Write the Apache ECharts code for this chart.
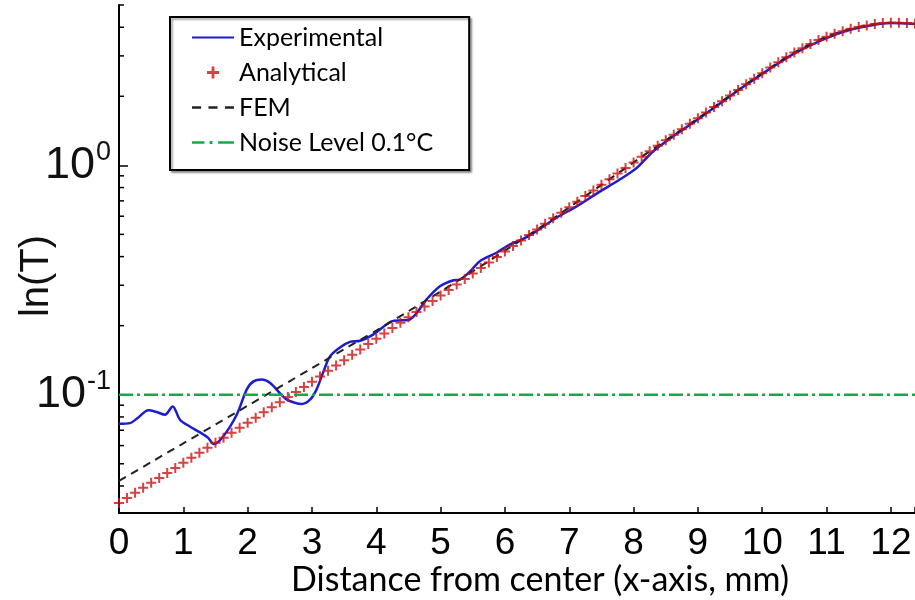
<!DOCTYPE html>
<html>
<head>
<meta charset="utf-8">
<script src="https://cdn.jsdelivr.net/npm/echarts@6/dist/echarts.min.js"></script>
<style>html,body{margin:0;padding:0;background:#fff}#chart{width:915px;height:600px}</style>
</head>
<body>
<div id="chart"></div>
<script>
// ---- data ----
const analyticalX = [0,0.125,0.25,0.375,0.5,0.625,0.75,0.875,
  1,1.125,1.25,1.375,1.5,1.625,1.75,1.875,
  2,2.125,2.25,2.375,2.5,2.625,2.75,2.875,
  3,3.125,3.25,3.375,3.5,3.625,3.75,3.875,
  4,4.125,4.25,4.375,4.5,4.625,4.75,4.875,
  5,5.125,5.25,5.375,5.5,5.625,5.75,5.875,
  6,6.125,6.25,6.375,6.5,6.625,6.75,6.875,
  7,7.125,7.25,7.375,7.5,7.625,7.75,7.875,
  8,8.125,8.25,8.375,8.5,8.625,8.75,8.875,
  9,9.125,9.25,9.375,9.5,9.625,9.75,9.875,
  10,10.125,10.25,10.375,10.5,10.625,10.75,10.875,
  11,11.125,11.25,11.375,11.5,11.625,11.75,11.875,
  12,12.125,12.25,12.375];
const analyticalY = [0.03373,0.03548,0.03733,0.03926,0.04130,0.04335,0.04560,0.04797,
  0.05047,0.05309,0.05585,0.05875,0.06180,0.06486,0.06823,0.07178,
  0.07551,0.07943,0.08375,0.08810,0.09268,0.09772,0.1028,0.1081,
  0.1140,0.1202,0.1271,0.1340,0.1413,0.1493,0.1574,0.1663,
  0.1754,0.1849,0.1954,0.2061,0.2178,0.2296,0.2427,0.2559,
  0.2704,0.2858,0.3020,0.3192,0.3373,0.3565,0.3767,0.3981,
  0.4207,0.4446,0.4699,0.4966,0.5248,0.5559,0.5875,0.6209,
  0.6561,0.6934,0.7345,0.7762,0.8222,0.8690,0.9204,0.9727,
  1.030,1.089,1.151,1.216,1.285,1.358,1.435,1.517,
  1.603,1.698,1.795,1.901,2.014,2.128,2.254,2.382,
  2.523,2.667,2.812,2.958,3.105,3.243,3.381,3.516,
  3.639,3.750,3.846,3.936,4.009,4.074,4.130,4.169,
  4.188,4.188,4.169,4.140];

const femX = [0,0.5,1,1.5,2,2.5,3,3.5,4,4.5,5,5.5,6,6.5,7,7.5,8,8.5,9,9.5,10,10.5,11,11.5,12,12.375];
const femY = [0.04207,0.05082,0.06138,0.07413,0.08954,0.1081,0.1306,0.1578,0.1905,0.2312,0.2818,0.3451,0.4246,
  0.5248,0.6561,0.8222,1.030,1.285,1.603,2.014,2.523,3.105,3.639,4.009,4.188,4.140];

const expX = [0,0.17,0.30,0.455,0.586,0.715,0.835,0.948,1.10,1.26,1.39,1.47,1.62,1.83,1.985,2.09,2.22,2.35,2.50,2.61,
  2.84,2.97,3.07,3.18,3.28,3.44,3.59,3.75,3.95,4.24,4.39,4.52,4.63,4.78,4.99,5.20,5.30,5.46,5.61,5.87,
  6.08,6.29,6.49,6.80,7.12,7.45,7.79,8.05,8.31,8.62,8.93,9.29,9.65,10.07,10.48,10.90,11.3,11.7,12.0,12.375];
const expY = [0.0747,0.0752,0.0796,0.0855,0.0840,0.0818,0.0889,0.0778,0.0727,0.0685,0.0647,0.0609,0.0658,0.0818,0.1052,0.1143,0.1164,0.1125,0.1017,0.0951,
  0.0911,0.0951,0.1052,0.1264,0.1469,0.1610,0.1699,0.1718,0.1828,0.2089,0.2110,0.2128,0.2274,0.2600,0.2972,0.3155,0.3177,0.3453,0.3821,0.4159,
  0.4519,0.4786,0.5164,0.5911,0.6637,0.7600,0.869,0.975,1.154,1.343,1.536,1.815,2.148,2.582,3.055,3.491,3.85,4.08,4.17,4.13];

const noiseX = [0, 12.375];
const noiseY = [0.1, 0.1];

const yMajorTicks = [0.1, 1];
const yMinorTicks = [0.04,0.05,0.06,0.07,0.08,0.09,0.2,0.3,0.4,0.5,0.6,0.7,0.8,0.9,2,3,4,5];
const xRange = [0, 12.375];
const yRange = [0.0305, 5.0];

const seriesNames = ['Experimental', 'Analytical', 'FEM', 'Noise Level 0.1\u00b0C'];

// ---- build ----
const zip = (xs, ys) => xs.map((x, i) => [x, ys[i]]);
const plusPath = 'path://M4,0H6V4H10V6H6V10H4V6H0V4H4Z';
const legendPlus = 'path://M3.85,0H6.15V3.85H10V6.15H6.15V10H3.85V6.15H0V3.85H3.85Z';
const supFont = "'Liberation Sans', Arial, sans-serif";

const chart = echarts.init(document.getElementById('chart'), null, {renderer: 'canvas'});
chart.setOption({
  animation: false,
  backgroundColor: '#fff',
  grid: {left: 119, right: 0, top: 5, bottom: 87, containLabel: false, outerBoundsMode: 'none'},
  legend: {
    orient: 'vertical', left: 170, top: 17,
    padding: [8, 36, 15, 22],
    itemWidth: 42, itemHeight: 12, itemGap: 10,
    borderColor: '#000', borderWidth: 2, backgroundColor: '#fff',
    shadowColor: 'rgba(0,0,0,0.35)', shadowBlur: 2, shadowOffsetX: 2, shadowOffsetY: 2,
    textStyle: {fontFamily: 'Lato', fontSize: 25, color: '#000'},
    selectedMode: false,
    data: [
      {name: seriesNames[0], icon: 'path://M0,0H42V2.2H0Z'},
      {name: seriesNames[1], icon: legendPlus},
      {name: seriesNames[2], icon: 'path://M0,0H8V2.2H0Z M14.5,0H22.5V2.2H14.5Z M29,0H37V2.2H29Z'},
      {name: seriesNames[3], icon: 'path://M0,0H11V2.2H0Z M15.5,-0.2H18V2.4H15.5Z M23,0H37V2.2H23Z'}
    ]
  },
  xAxis: {
    type: 'value', min: xRange[0], max: xRange[1], interval: 1,
    name: 'Distance from center (x-axis, mm)', nameLocation: 'middle', nameGap: 50,
    nameMoveOverlap: false,
    nameTextStyle: {fontFamily: 'Lato', fontSize: 34, color: '#000', padding: [0, 0, 0, 46]},
    axisLine: {lineStyle: {color: '#000', width: 2}},
    axisTick: {inside: true, length: 6, lineStyle: {color: '#000', width: 1.5}},
    axisLabel: {
      margin: 12, color: '#000', fontSize: 37,
      fontFamily: "'Liberation Sans Narrow', 'Liberation Sans', Arial, sans-serif",
      formatter: v => (Math.abs(v - Math.round(v)) < 1e-9 ? String(Math.round(v)) : '')
    },
    splitLine: {show: false}
  },
  yAxis: {
    type: 'log', logBase: 10, min: yRange[0], max: yRange[1],
    name: 'ln(T)', nameLocation: 'middle', nameGap: 62,
    nameMoveOverlap: false,
    nameTextStyle: {fontFamily: supFont, fontSize: 40, color: '#111', padding: [0, 34, 0, 0]},
    axisLine: {show: true, lineStyle: {color: '#000', width: 2}},
    axisTick: {show: true, inside: true, length: 9, customValues: yMajorTicks, lineStyle: {color: '#000', width: 1.5}},
    axisLabel: {
      margin: 8, customValues: yMajorTicks,
      formatter: v => {
        const e = Math.log10(v);
        const r = Math.round(e);
        if (Math.abs(e - r) > 1e-6) return '';
        return '{b|10}{e|' + (r < 0 ? '-' + (-r) : String(r)) + '}';
      },
      rich: {
        b: {fontFamily: supFont, fontSize: 45, color: '#111'},
        e: {fontFamily: supFont, fontSize: 27, color: '#111', padding: [0, 0, 26, 1]}
      }
    },
    splitLine: {show: false},
    minorTick: {show: false}
  },
  series: [
    {
      name: seriesNames[0], type: 'line', data: zip(expX, expY), smooth: 0.3,
      symbol: 'none', color: '#1c1cd0',
      lineStyle: {color: '#1c1cd0', width: 2.5}, z: 2
    },
    {
      name: seriesNames[2], type: 'line', data: zip(femX, femY), smooth: 0.3,
      symbol: 'none', color: '#222',
      lineStyle: {color: '#222', width: 2, type: [8, 6]}, z: 3
    },
    {
      name: seriesNames[1], type: 'scatter', data: zip(analyticalX, analyticalY),
      symbol: plusPath, symbolSize: 10, color: '#d01010',
      itemStyle: {color: '#d01010'}, z: 4
    },
    {
      name: seriesNames[3], type: 'line', data: zip(noiseX, noiseY),
      symbol: 'none', color: '#14aa46',
      lineStyle: {color: '#14aa46', width: 2.5, type: [14, 4, 3, 4]}, z: 5
    },
    {
      name: 'minorTicks', type: 'custom', silent: true, clip: false,
      data: yMinorTicks.map(v => [0, v]),
      renderItem: (params, api) => {
        const p = api.coord([api.value(0), api.value(1)]);
        return {type: 'line', shape: {x1: p[0], y1: p[1], x2: p[0] + 5, y2: p[1]},
                style: {stroke: '#000', lineWidth: 1.5}};
      },
      z: 6
    }
  ]
});
</script>
</body>
</html>
